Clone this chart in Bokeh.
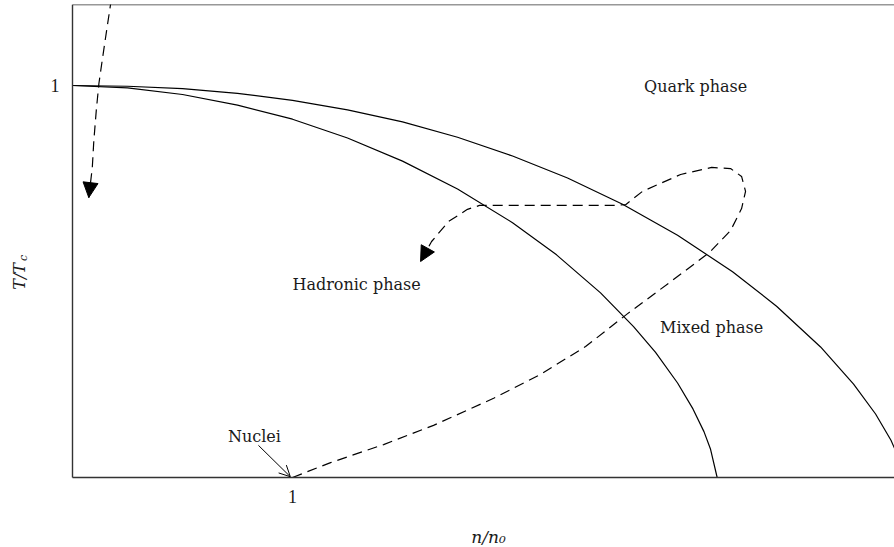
import math
from bokeh.plotting import figure
from bokeh.models import Range1d, FixedTicker, Label, Arrow, NormalHead, OpenHead, LinearAxis
from bokeh.embed import file_html
from bokeh.resources import INLINE

# ---- data (n/n0, T/Tc) ----
# hadronic-phase boundary
hadron_n = [0.0, 0.25, 0.5, 0.75, 1.0, 1.25, 1.5, 1.75, 2.0, 2.2, 2.4, 2.55, 2.65,
            2.75, 2.82, 2.87, 2.90, 2.93]
hadron_t = [1.0, 0.994, 0.977, 0.950, 0.914, 0.866, 0.807, 0.736, 0.650, 0.568, 0.471,
            0.385, 0.319, 0.241, 0.175, 0.117, 0.072, 0.0]

# quark-phase boundary
quark_n = [0.0, 0.25, 0.5, 0.75, 1.0, 1.25, 1.5, 1.75, 2.0, 2.25, 2.5, 2.75, 3.0, 3.2,
           3.4, 3.55, 3.65, 3.72, 3.76, 3.78]
quark_t = [1.0, 0.998, 0.992, 0.980, 0.962, 0.938, 0.907, 0.868, 0.820, 0.764, 0.697,
           0.618, 0.525, 0.437, 0.333, 0.238, 0.162, 0.095, 0.044, 0.0]

# early-universe cooling trajectory
cool_n = [0.177, 0.155, 0.135, 0.120, 0.108, 0.097, 0.090, 0.074]
cool_t = [1.222, 1.140, 1.064, 1.005, 0.936, 0.860, 0.791, 0.714]

# heavy-ion collision trajectory
coll_n = [1.000, 1.173, 1.414, 1.641, 1.914, 2.127, 2.332, 2.523, 2.727, 2.895, 2.991,
          3.041, 3.059, 3.041, 2.991, 2.905, 2.764, 2.591, 2.514, 2.455, 1.850, 1.795,
          1.709, 1.632, 1.582]
coll_t = [0.000, 0.038, 0.084, 0.133, 0.202, 0.263, 0.334, 0.418, 0.503, 0.574, 0.630,
          0.686, 0.730, 0.768, 0.788, 0.791, 0.773, 0.730, 0.696, 0.694, 0.694, 0.684,
          0.653, 0.602, 0.551]

nuclei_from = (0.845, 0.082)
nuclei_to = (0.990, 0.002)

x_ticks = [1]
y_ticks = [1]

X_MAX = 3.736     # right edge of the drawing box
Y_MAX = 1.2066    # top edge of the drawing box
INK = "#1a1a1a"
AXIS = "#333333"
SERIF = "DejaVu Serif"

# the frame covers the whole canvas; axes are pinned at n=0 / T=0 so labels are never clipped
p = figure(width=886, height=543,
           x_range=Range1d(-0.29091, X_MAX), y_range=Range1d(-0.17857, Y_MAX),
           output_backend="svg", toolbar_location=None,
           min_border_left=0, min_border_right=0, min_border_top=0, min_border_bottom=0,
           margin=(4, 0, 0, 8))
p.grid.visible = False
p.outline_line_color = None
p.background_fill_color = "white"
p.border_fill_color = "white"

bottom_axis = p.below[0]
left_axis = p.left[0]
top_axis = LinearAxis()
p.add_layout(top_axis, "above")

bottom_axis.fixed_location = 0
bottom_axis.bounds = (0, X_MAX)
left_axis.fixed_location = 0
left_axis.bounds = (0, Y_MAX)
top_axis.fixed_location = Y_MAX
top_axis.bounds = (0, X_MAX)

for ax, ticks in ((bottom_axis, x_ticks), (left_axis, y_ticks), (top_axis, [])):
    ax.ticker = FixedTicker(ticks=ticks)
    ax.major_tick_in = 0
    ax.major_tick_out = 0
    ax.minor_tick_line_color = None
    ax.major_tick_line_color = None
    ax.major_label_text_font = "Liberation Serif"
    ax.major_label_text_font_size = "18px"
    ax.major_label_text_color = INK
    ax.major_label_standoff = 13
    ax.axis_line_color = AXIS
    ax.axis_line_width = 1.4

# phase boundaries
p.line(hadron_n, hadron_t, line_color="black", line_width=1.2)
p.line(quark_n, quark_t, line_color="black", line_width=1.2)

# dashed trajectories
p.line(cool_n, cool_t, line_color="black", line_width=1.2, line_dash="10 6")
p.line(coll_n, coll_t, line_color="black", line_width=1.2, line_dash="10 6")

p.add_layout(Arrow(end=NormalHead(size=15, fill_color="black", line_color="black"),
                   x_start=cool_n[-2], y_start=cool_t[-2], x_end=cool_n[-1], y_end=cool_t[-1],
                   line_alpha=0))
p.add_layout(Arrow(end=NormalHead(size=15, fill_color="black", line_color="black"),
                   x_start=coll_n[-2], y_start=coll_t[-2], x_end=coll_n[-1], y_end=coll_t[-1],
                   line_alpha=0))
p.add_layout(Arrow(end=OpenHead(size=11, line_width=1, line_color="black"),
                   x_start=nuclei_from[0], y_start=nuclei_from[1],
                   x_end=nuclei_to[0], y_end=nuclei_to[1], line_width=1, line_color="black"))

def lab(x, y, t, size="16px", style="normal", angle=0.0):
    p.add_layout(Label(x=x, y=y, text=t, text_font=SERIF, text_font_size=size,
                       text_font_style=style, text_align="center", text_baseline="middle",
                       text_color=INK, angle=angle))

lab(2.832, 0.997, "Quark phase")
lab(1.291, 0.492, "Hadronic phase")
lab(2.905, 0.383, "Mixed phase")
lab(0.827, 0.105, "Nuclei")

lab(1.891, -0.153, "n/n₀", size="17px", style="italic")
lab(-0.241, 0.513, "T/T", size="16px", style="italic", angle=math.pi / 2)
lab(-0.224, 0.560, "c", size="11px", style="italic", angle=math.pi / 2)

open("out.html", "w").write(file_html(p, INLINE))
